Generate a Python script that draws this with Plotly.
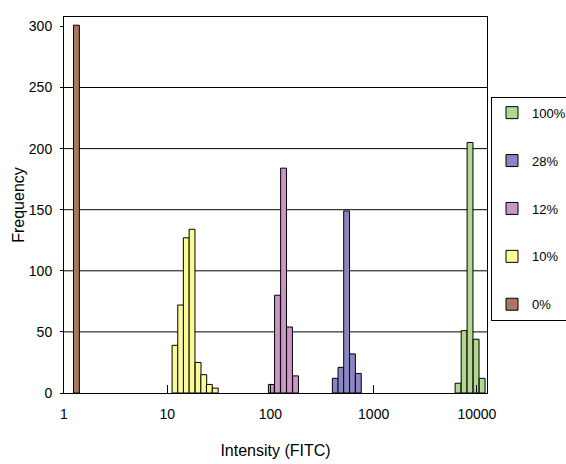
import plotly.graph_objects as go

# ---- data ----
series_names = ["0%", "10%", "12%", "28%", "100%"]
series_colors = ["#A9775A", "#FAFA96", "#CC96C4", "#8A86C2", "#B4D690"]
legend_ranks = [5, 4, 3, 2, 1]

x_0 = [1.32]
y_0 = [301]

x_10 = [11.9, 13.5, 15.3, 17.4, 19.9, 22.6, 25.6, 29.2]
y_10 = [39, 72, 127, 134, 25, 15, 7, 4]

x_12 = [102, 117, 134, 153, 175]
y_12 = [7, 80, 184, 54, 14]

x_28 = [425, 482, 547, 623, 710]
y_28 = [12, 21, 149, 32, 16]

x_100 = [6570, 7520, 8580, 9830, 11240]
y_100 = [8, 51, 205, 44, 12]

x_tick_vals = [1, 10, 100, 1000, 10000]
x_tick_text = ["1", "10", "100", "1000", "10000"]
y_tick_vals = [0, 50, 100, 150, 200, 250, 300]
grid_vals = [50, 100, 150, 200, 250]

bin_half_log = 0.0283  # half bin width in decades

xs = [x_0, x_10, x_12, x_28, x_100]
ys = [y_0, y_10, y_12, y_28, y_100]

fig = go.Figure()
for name, color, rank, xv, yv in zip(series_names, series_colors, legend_ranks, xs, ys):
    lo = 10 ** (-bin_half_log)
    hi = 10 ** (bin_half_log)
    widths = [v * (hi - lo) for v in xv]
    offsets = [v * (lo - 1) for v in xv]
    fig.add_trace(go.Bar(
        x=xv, y=yv, name=name, legendgroup=name, legendrank=rank,
        width=widths, offset=offsets,
        marker=dict(color=color, line=dict(color="black", width=1)),
    ))

for g in grid_vals:
    fig.add_shape(type="line", xref="paper", x0=0, x1=1, yref="y", y0=g, y1=g,
                  line=dict(color="black", width=1), layer="below")

font_family = "Liberation Sans, Arial, sans-serif"

fig.update_layout(
    width=566, height=464,
    margin=dict(l=64, r=79, t=17, b=71, autoexpand=False),
    paper_bgcolor="white", plot_bgcolor="white",
    font=dict(family=font_family, color="black", size=14),
    showlegend=True,
    legend=dict(
        xref="container", yref="container",
        x=491 / 566, y=1 - 96.7 / 464, xanchor="left", yanchor="top",
        bordercolor="black", borderwidth=1, bgcolor="white",
        font=dict(size=13), traceorder="grouped",
        tracegroupgap=28, itemwidth=30,
    ),
    xaxis=dict(
        type="log", range=[0, 4.098], automargin=False,
        tickvals=x_tick_vals, ticktext=x_tick_text,
        ticks="inside", ticklen=8, tickcolor="black",
        showline=True, linecolor="black", linewidth=1, mirror=True,
        showgrid=False, zeroline=False,
        ticklabelstandoff=8,
        title=dict(text="Intensity (FITC)", font=dict(size=16), standoff=24),
    ),
    yaxis=dict(
        range=[0, 307.7], automargin=False,
        tickvals=y_tick_vals,
        ticks="outside", ticklen=3, tickcolor="black",
        showline=True, linecolor="black", linewidth=1, mirror=True,
        showgrid=False, zeroline=False,
        ticklabelstandoff=5,
        title=dict(text="Frequency", font=dict(size=16), standoff=0),
    ),
)

fig.write_html("out.html", config={"displayModeBar": False},
               post_script="document.body.style.margin='0px';")
